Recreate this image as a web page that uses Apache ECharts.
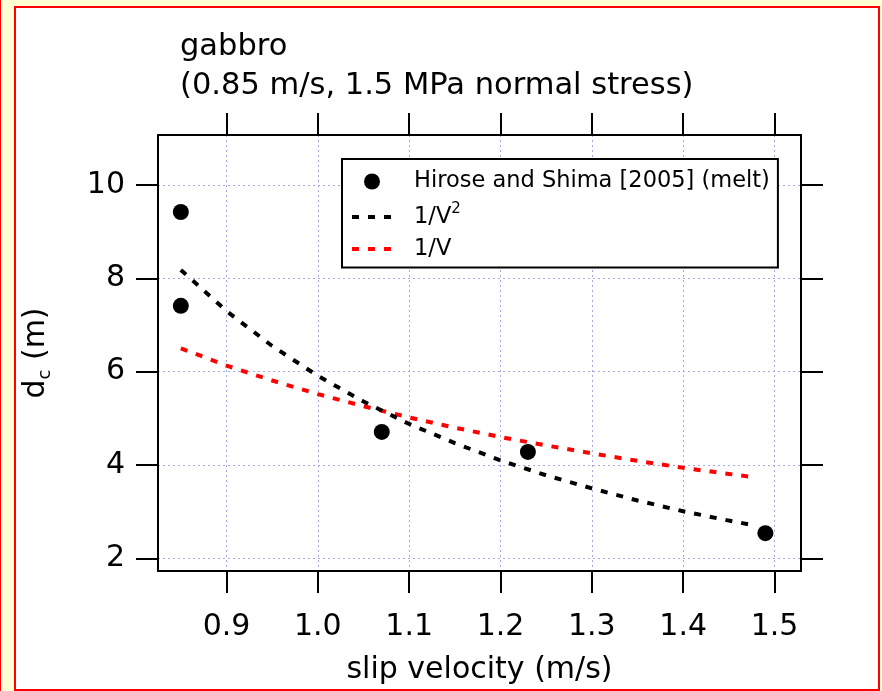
<!DOCTYPE html>
<html>
<head>
<meta charset="utf-8">
<script src="https://cdn.jsdelivr.net/npm/echarts@6/dist/echarts.min.js"></script>
<style>
  html, body { margin: 0; padding: 0; width: 882px; height: 691px; overflow: hidden; background: #ffffd4; }
  #edge { position: absolute; left: 0; top: 0; width: 1px; height: 691px; background: #ff0000; }
  #panel { position: absolute; left: 14px; top: 6px; width: 866px; height: 685px; box-sizing: border-box; border: 2px solid #ff0000; background: #ffffff; }
  #chart { position: absolute; left: 0; top: 0; width: 882px; height: 691px; }
</style>
</head>
<body>
<div id="edge"></div>
<div id="panel"></div>
<div id="chart"></div>
<script>
// ---- data ----
const xTicks = [0.9, 1.0, 1.1, 1.2, 1.3, 1.4, 1.5];
const yTicks = [2, 4, 6, 8, 10];
const meltV  = [0.85, 0.85, 1.07, 1.23, 1.49];
const meltDc = [9.42, 7.41, 4.71, 4.28, 2.54];
const curveV   = [0.85, 0.90, 0.95, 1.00, 1.05, 1.10, 1.15, 1.20, 1.25, 1.30, 1.35, 1.40, 1.45, 1.48];
const invV2Dc  = [8.18, 7.30, 6.55, 5.91, 5.36, 4.88, 4.47, 4.10, 3.78, 3.50, 3.24, 3.01, 2.81, 2.70];
const invVDc   = [6.50, 6.13, 5.81, 5.52, 5.26, 5.02, 4.80, 4.60, 4.42, 4.25, 4.09, 3.94, 3.81, 3.73];
const xRange = [0.825, 1.529];
const yRange = [1.73, 11.07];

const FONT = 'DejaVu Sans';
const pair = (a, b) => a.map((v, i) => [v, b[i]]);

const chart = echarts.init(document.getElementById('chart'), null, { renderer: 'canvas' });

const gridLine = { show: true, lineStyle: { color: '#a8a8e4', width: 1, type: [2, 3] } };
const axLine = { show: true, onZero: false, lineStyle: { color: '#000', width: 2 } };
const tick = (vals) => ({ show: true, inside: false, length: 22, customValues: vals, lineStyle: { color: '#000', width: 2 } });
const DASH = [7, 9];

const option = {
  animation: false,
  backgroundColor: 'transparent',
  title: {
    text: 'gabbro\n(0.85 m/s, 1.5 MPa normal stress)',
    left: 180, top: 28, padding: 0,
    textStyle: { fontFamily: FONT, fontSize: 30.5, fontWeight: 'normal', color: '#000', lineHeight: 39 }
  },
  grid: { left: 158, right: 81, top: 135, bottom: 120, containLabel: false },
  legend: {
    orient: 'vertical',
    left: 342, top: 159,
    padding: [11, 8, 7, 8],
    itemGap: 9,
    itemWidth: 40, itemHeight: 16,
    backgroundColor: '#fff',
    borderColor: '#000', borderWidth: 2, borderRadius: 0,
    data: [
      { name: 'Hirose and Shima [2005] (melt)' },
      { name: '1/V^2', itemStyle: { opacity: 0 }, lineStyle: { width: 4, type: DASH, color: '#000' } },
      { name: '1/V', itemStyle: { opacity: 0 }, lineStyle: { width: 4, type: DASH, color: '#ff0000' } }
    ],
    formatter: function (name) {
      if (name === '1/V^2') return '{n|1/V}{sup|2}';
      return '{n|' + name + '}';
    },
    textStyle: {
      fontFamily: FONT, color: '#000',
      rich: {
        n: { fontFamily: FONT, fontSize: 22.5, lineHeight: 30, padding: [0, 0, 0, 17], color: '#000' },
        sup: { fontFamily: FONT, fontSize: 15, lineHeight: 15, verticalAlign: 'top', color: '#000' }
      }
    }
  },
  xAxis: [{
    type: 'value', position: 'bottom', min: xRange[0], max: xRange[1],
    axisLine: axLine, axisTick: tick(xTicks), splitLine: gridLine,
    axisLabel: { customValues: xTicks, margin: 41, fontFamily: FONT, fontSize: 30, color: '#000',
      formatter: v => v.toFixed(1) },
    name: 'slip velocity (m/s)', nameLocation: 'middle', nameGap: 84,
    nameTextStyle: { fontFamily: FONT, fontSize: 30, color: '#000' }
  }, {
    type: 'value', position: 'top', min: xRange[0], max: xRange[1],
    axisLine: axLine, axisTick: tick(xTicks), splitLine: { show: false },
    axisLabel: { show: false }
  }],
  yAxis: [{
    type: 'value', position: 'left', min: yRange[0], max: yRange[1],
    axisLine: axLine, axisTick: tick(yTicks), splitLine: gridLine,
    axisLabel: { customValues: yTicks, margin: 33, fontFamily: FONT, fontSize: 30, color: '#000' },
    name: '{d|d}{sub|c}{d| (m)}', nameLocation: 'middle', nameGap: 104, nameRotate: 90,
    nameTextStyle: {
      rich: {
        d: { fontFamily: FONT, fontSize: 30, lineHeight: 36, color: '#000' },
        sub: { fontFamily: FONT, fontSize: 18, lineHeight: 17, verticalAlign: 'bottom', color: '#000' }
      }
    }
  }, {
    type: 'value', position: 'right', min: yRange[0], max: yRange[1],
    axisLine: axLine, axisTick: tick(yTicks), splitLine: { show: false },
    axisLabel: { show: false }
  }],
  series: [{
    name: 'Hirose and Shima [2005] (melt)',
    type: 'scatter', symbol: 'circle', symbolSize: 16,
    itemStyle: { color: '#000', opacity: 1 },
    data: pair(meltV, meltDc), z: 5
  }, {
    name: '1/V^2',
    type: 'line', showSymbol: false, symbol: 'none',
    lineStyle: { color: '#000', width: 4, type: DASH },
    itemStyle: { color: '#000' },
    data: pair(curveV, invV2Dc), z: 4
  }, {
    name: '1/V',
    type: 'line', showSymbol: false, symbol: 'none',
    lineStyle: { color: '#ff0000', width: 4, type: DASH },
    itemStyle: { color: '#ff0000' },
    data: pair(curveV, invVDc), z: 3
  }]
};
chart.setOption(option);
</script>
</body>
</html>
